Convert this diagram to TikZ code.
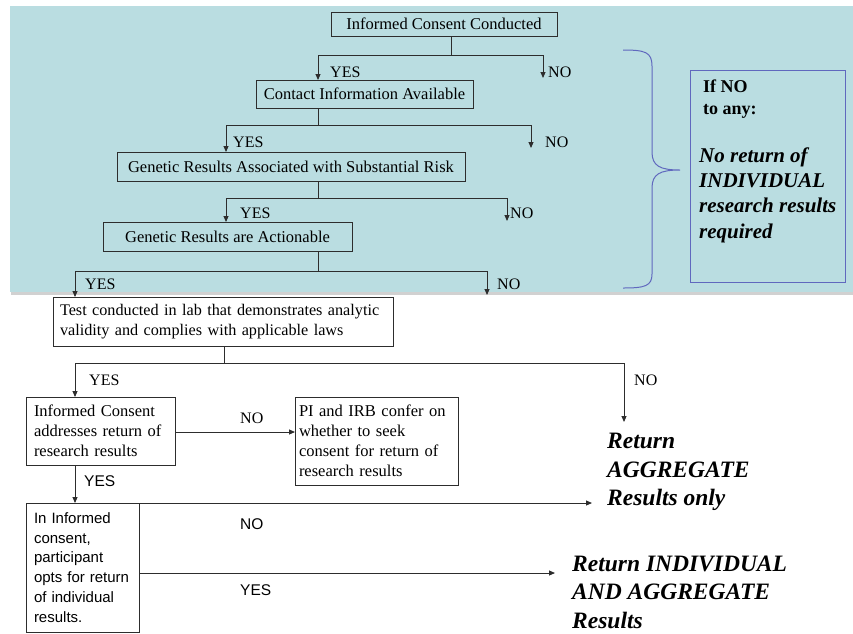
\documentclass[tikz,border=0pt]{standalone}
\usepackage{fontspec}
\setmainfont{Liberation Serif}
\newfontfamily\arialf{Liberation Sans}
\usetikzlibrary{arrows.meta}
\definecolor{panel}{RGB}{186,221,225}
\definecolor{bracec}{RGB}{96,104,190}
\definecolor{linec}{RGB}{45,45,45}
\hyphenpenalty=10000
\begin{document}
\begin{tikzpicture}[x=1pt,y=-1pt,
  box/.style={draw=linec, line width=0.9pt, anchor=north west, inner sep=0pt, outer sep=0pt, font=\fontsize{16.5}{20}\selectfont},
  mbox/.style={box, align=left, inner xsep=8pt},
  conn/.style={draw=linec, line width=0.9pt},
  arr/.style={conn, -{Triangle[length=6pt,width=5pt]}},
  lab/.style={anchor=west, inner sep=0pt, font=\fontsize{16}{19}\selectfont},
  slab/.style={anchor=west, inner sep=0pt, font=\arialf\fontsize{15.5}{19}\selectfont},
  big/.style={anchor=west, inner sep=0pt, align=left, font=\bfseries\itshape\fontsize{23.5}{28.5}\selectfont}]

\useasboundingbox (0,0) rectangle (853,633);
\fill[white] (0,0) rectangle (853,633);
\fill[black!18] (11,7.5) rectangle (853,294.5);
\fill[panel] (10,6) rectangle (853,292);

% boxes
\node[box, minimum width=226, minimum height=24] (b1) at (331,12) {Informed Consent Conducted};
\node[box, minimum width=217, minimum height=28] (b2) at (256,80) {Contact Information Available};
\node[box, minimum width=348, minimum height=29] (b3) at (117,152) {Genetic Results Associated with Substantial Risk};
\node[box, minimum width=249, minimum height=29] (b4) at (103,222) {Genetic Results are Actionable};
\node[mbox, inner xsep=7pt, text width=326, minimum height=49, font=\fontsize{16.2}{20}\selectfont] (b5) at (53,297) {Test conducted in lab that demonstrates analytic\\validity and complies with applicable laws};
\node[mbox, text width=133, minimum height=68] (b6) at (26,397) {Informed Consent\\addresses return of\\research results};
\node[mbox, inner xsep=4pt, text width=155, minimum height=88] (b7) at (295,397) {PI and IRB confer on\\whether to seek\\consent for return of\\research results};
\node[mbox, text width=97, minimum height=129, font=\arialf\fontsize{15}{19.8}\selectfont] (b8) at (26,503) {In Informed\\consent,\\participant\\opts for return\\of individual\\results.};

% right box
\node[draw=bracec, line width=1.2pt, anchor=north west, minimum width=155, minimum height=212, inner sep=0pt] (rb) at (690,70) {};
\node[anchor=west, inner sep=0pt, align=left, font=\bfseries\fontsize{18}{22}\selectfont] (rb1) at (703,99) {If NO\\to any:};
\node[anchor=west, inner sep=0pt, align=left, font=\bfseries\itshape\fontsize{21}{25.3}\selectfont] (rb2) at (699,195) {No return of\\INDIVIDUAL\\research results\\required};

% brace
\draw[bracec, line width=1pt] (623,50) .. controls (645,50) and (652,52) .. (652,66) -- (652,152)
  .. controls (652,166) and (660,170) .. (680,170)
  .. controls (660,170) and (652,174) .. (652,188) -- (652,274)
  .. controls (652,286) and (645,288) .. (623,288);

% outcomes
\node[big] (agg) at (607,472) {Return\\AGGREGATE\\Results only};
\node[big] (ind) at (572,592) {Return INDIVIDUAL\\AND AGGREGATE\\Results};

% connectors row 1
\coordinate (j1) at (451,55);
\coordinate (y1) at (318,55);
\coordinate (n1) at (543,55);
\coordinate (n1e) at (543,78);
\draw[conn] (b1.south -| j1) -- (j1);
\draw[conn] (y1) -- (n1);
\draw[arr] (y1) -- (b2.north -| y1);
\draw[arr] (n1) -- (n1e);
% row 2
\coordinate (j2) at (318,125);
\coordinate (y2) at (226,125);
\coordinate (n2) at (531,125);
\coordinate (n2e) at (531,148);
\draw[conn] (b2.south -| j2) -- (j2);
\draw[conn] (y2) -- (n2);
\draw[arr] (y2) -- (b3.north -| y2);
\draw[arr] (n2) -- (n2e);
% row 3
\coordinate (j3) at (318,198);
\coordinate (y3) at (226,198);
\coordinate (n3) at (507,198);
\coordinate (n3e) at (507,221);
\draw[conn] (b3.south -| j3) -- (j3);
\draw[conn] (y3) -- (n3);
\draw[arr] (y3) -- (b4.north -| y3);
\draw[arr] (n3) -- (n3e);
% row 4
\coordinate (j4) at (318,271);
\coordinate (y4) at (75,271);
\coordinate (n4) at (487,271);
\coordinate (n4e) at (487,295);
\draw[conn] (b4.south -| j4) -- (j4);
\draw[conn] (y4) -- (n4);
\draw[arr] (y4) -- (b5.north -| y4);
\draw[arr] (n4) -- (n4e);
% row 5
\coordinate (j5) at (224,363);
\coordinate (y5) at (75,363);
\coordinate (n5) at (624,363);
\coordinate (n5e) at (624,422);
\draw[conn] (b5.south -| j5) -- (j5);
\draw[conn] (y5) -- (n5);
\draw[arr] (y5) -- (b6.north -| y5);
\draw[arr] (n5) -- (n5e);
% lower
\coordinate (c6) at (175,432);
\draw[arr] (b6.east |- c6) -- (b7.west |- c6);
\draw[arr] (b6.south -| y5) -- (b8.north -| y5);
\coordinate (e8a) at (592,503);
\draw[arr] (b8.north east) -- (e8a);
\coordinate (e8b) at (555,573);
\draw[arr] (b8.east |- e8b) -- (e8b);

% labels
\node[lab] (l1y) at (330,72) {YES};
\node[lab] (l1n) at (548,72) {NO};
\node[lab] (l2y) at (233,142) {YES};
\node[lab] (l2n) at (545,142) {NO};
\node[lab] (l3y) at (240,213) {YES};
\node[lab] (l3n) at (510,213) {NO};
\node[lab] (l4y) at (85,284) {YES};
\node[lab] (l4n) at (497,284) {NO};
\node[lab] (l5y) at (89,380) {YES};
\node[lab] (l5n) at (634,380) {NO};
\node[lab] (l6n) at (240,418) {NO};
\node[slab] (l6y) at (84,481) {YES};
\node[slab] (l8n) at (240,524) {NO};
\node[slab] (l8y) at (240,590) {YES};
\end{tikzpicture}
\end{document}
